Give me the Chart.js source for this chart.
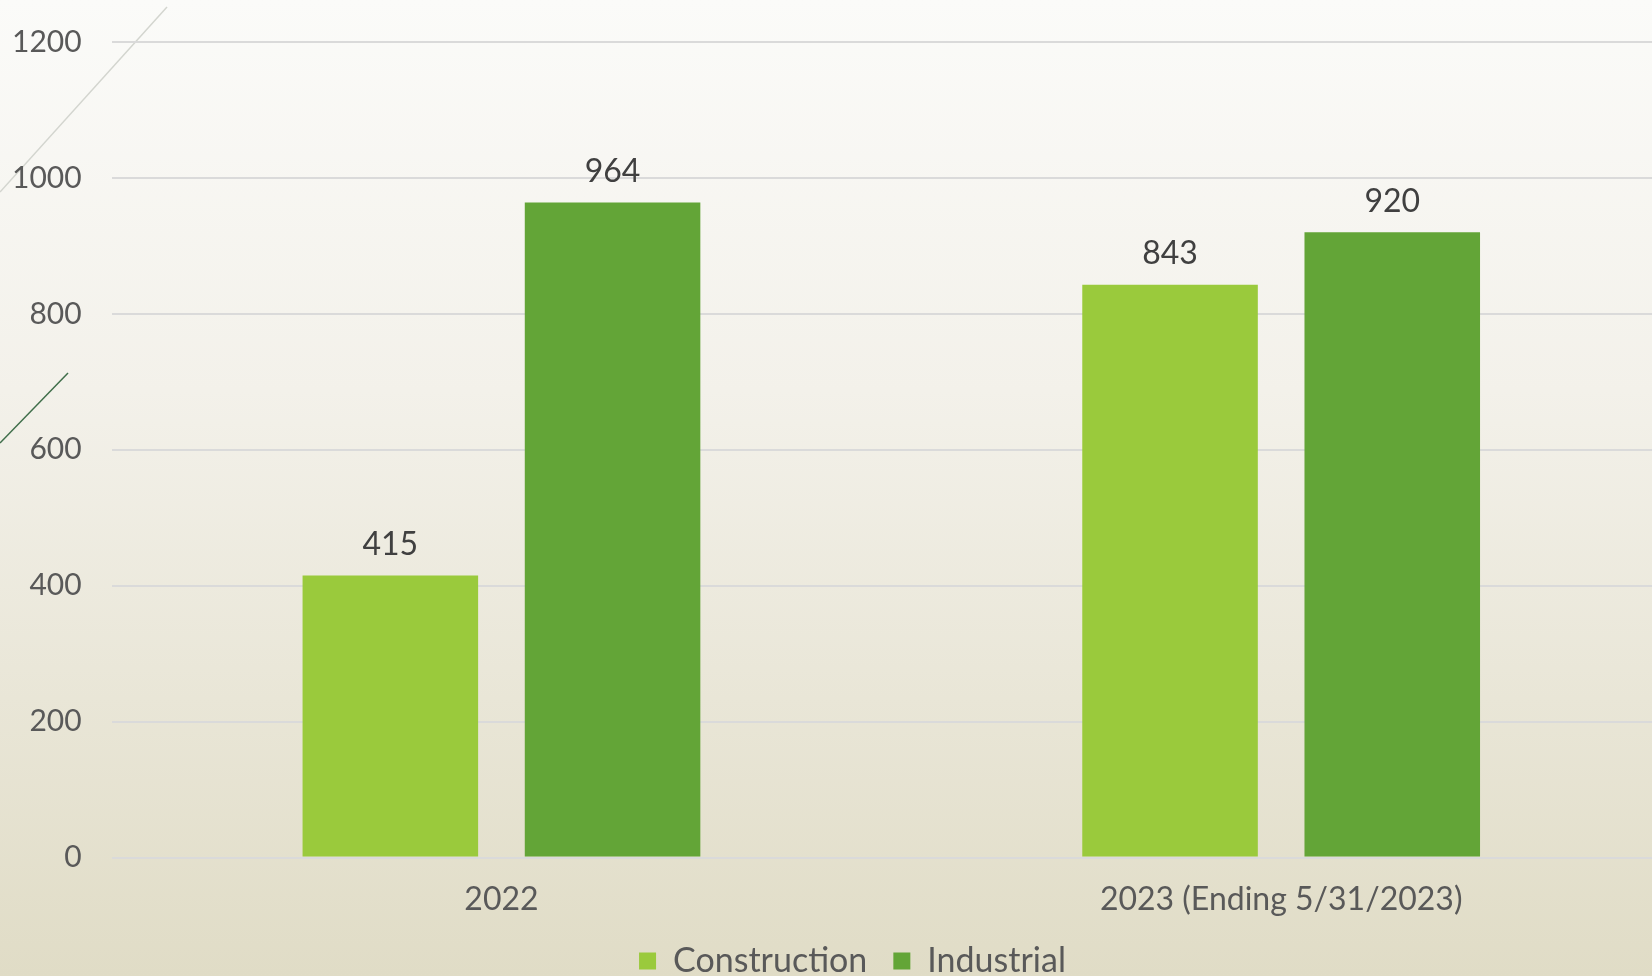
<!DOCTYPE html>
<html>
<head>
<meta charset="utf-8">
<script src="https://cdn.jsdelivr.net/npm/chart.js@4"></script>
<style>
  html, body { margin: 0; padding: 0; width: 1652px; height: 976px; overflow: hidden; }
  body { background: linear-gradient(to bottom, #fbfbf9 0%, #f3f1ea 40%, #e0dcc6 100%); position: relative; }
  #deco { position: absolute; left: 0; top: 0; width: 300px; height: 500px; }
  #wrap { position: absolute; left: 0; top: 0; width: 1706px; height: 976px; }
</style>
</head>
<body>
<svg id="deco" viewBox="0 0 300 500">
  <line x1="0" y1="192" x2="167" y2="7" stroke="#d3d5cf" stroke-width="1.5"/>
  <line x1="0" y1="443" x2="68" y2="373" stroke="#3f6e4a" stroke-width="1.5"/>
</svg>
<div id="wrap"><canvas id="c"></canvas></div>
<script>
const categories = ["2022", "2023 (Ending 5/31/2023)"];
const seriesNames = ["Construction", "Industrial"];
const constructionValues = [415, 843];
const industrialValues = [964, 920];
const yTicks = [0, 200, 400, 600, 800, 1000, 1200];
const seriesColors = ["#9aca3c", "#63a537"];

const FONT = "Lato, 'Open Sans', sans-serif";

const valueLabels = {
  id: "valueLabels",
  afterDatasetsDraw(chart) {
    const ctx = chart.ctx;
    ctx.save();
    ctx.font = "32px " + FONT;
    ctx.fillStyle = "#404040";
    ctx.textAlign = "center";
    ctx.textBaseline = "bottom";
    chart.data.datasets.forEach((ds, i) => {
      const meta = chart.getDatasetMeta(i);
      meta.data.forEach((el, j) => {
        ctx.fillText(String(ds.data[j]), el.x, el.y - 15);
      });
    });
    ctx.restore();
  }
};

const layoutTweaks = {
  id: "layoutTweaks",
  afterLayout(chart) {
    const lg = chart.legend;
    if (lg) { lg.left += 26; lg.right += 26; }
    const x = chart.scales.x;
    if (x) { x.bottom += 40; x.height += 40; }
  }
};

new Chart(document.getElementById("c"), {
  type: "bar",
  data: {
    labels: categories,
    datasets: [
      { label: seriesNames[0], data: constructionValues, backgroundColor: seriesColors[0] },
      { label: seriesNames[1], data: industrialValues, backgroundColor: seriesColors[1] }
    ]
  },
  options: {
    responsive: true,
    maintainAspectRatio: false,
    animation: false,
    layout: { padding: { left: -18, right: 35, top: 42, bottom: -12 } },
    datasets: { bar: { categoryPercentage: 0.57, barPercentage: 0.79 } },
    scales: {
      x: {
        grid: { display: false },
        border: { display: false },
        ticks: { color: "#595959", font: { family: FONT, size: 32 }, padding: 15 },
        afterFit(scale) { scale.height -= 16; }
      },
      y: {
        min: 0, max: 1200,
        afterBuildTicks(axis) { axis.ticks = yTicks.map(v => ({ value: v })); },
        afterFit(scale) { scale.paddingTop = 0; scale.paddingBottom = 0; },
        grid: { color: "#dadada", lineWidth: 2, drawTicks: false },
        border: { display: false },
        ticks: { color: "#595959", font: { family: FONT, size: 30 }, padding: 30, callback: v => String(v) }
      }
    },
    plugins: {
      legend: {
        position: "bottom",
        labels: { color: "#595959", font: { family: FONT, size: 34 }, boxWidth: 17, boxHeight: 17, padding: 26 }
      },
      tooltip: { enabled: false }
    }
  },
  plugins: [valueLabels, layoutTweaks]
});
</script>
</body>
</html>
